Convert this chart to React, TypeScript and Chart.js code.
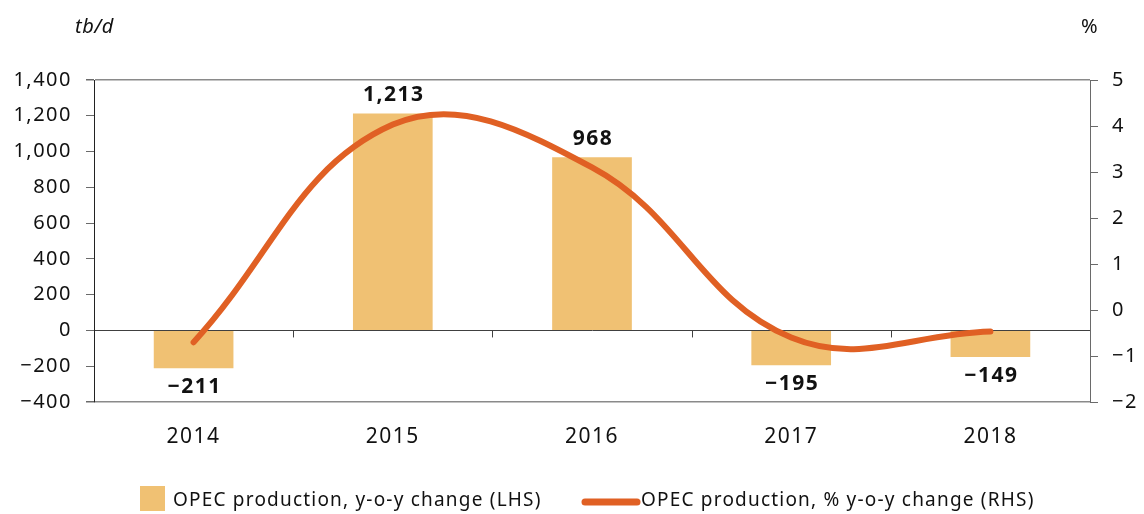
import React, { useEffect, useRef } from 'react';
import { Chart, registerables } from 'chart.js';

Chart.register(...registerables);

const years = ['2014', '2015', '2016', '2017', '2018'];
const productionChange = [-211, 1213, 968, -195, -149];
const pctChange = [-0.7, 4.03, 3.1, -0.6, -0.47];
const leftTicks = [-400, -200, 0, 200, 400, 600, 800, 1000, 1200, 1400];
const rightTicks = [-2, -1, 0, 1, 2, 3, 4, 5];
const barLabel = 'OPEC production, y-o-y change (LHS)';
const lineLabel = 'OPEC production, % y-o-y change (RHS)';
const leftUnit = 'tb/d';
const rightUnit = '%';

const FONT = '"Noto Sans", "Open Sans", sans-serif';
const BAR_COLOR = '#F0C173';
const LINE_COLOR = '#E06024';

const fmt = (v: number) =>
  (v < 0 ? '\u2212' : '') + Math.abs(v).toLocaleString('en-US');

const decorPlugin = {
  id: 'decor',
  beforeDraw(chart: any) {
    (chart.ctx as any).letterSpacing = '1.5px';
  },
  afterDatasetsDraw(chart: any) {
    const ctx = chart.ctx;
    const x = chart.scales.x;
    const y = chart.scales.y;
    // category boundary ticks on the zero line
    const zeroY = y.getPixelForValue(0);
    ctx.save();
    ctx.strokeStyle = '#404040';
    ctx.lineWidth = 1;
    for (let i = 1; i < years.length; i++) {
      const px = (x.getPixelForValue(i - 1) + x.getPixelForValue(i)) / 2;
      ctx.beginPath();
      ctx.moveTo(Math.round(px) + 0.5, zeroY);
      ctx.lineTo(Math.round(px) + 0.5, zeroY + 7);
      ctx.stroke();
    }
    // bar value labels
    const meta = chart.getDatasetMeta(1);
    ctx.font = `bold 21px ${FONT}`;
    ctx.letterSpacing = '1.5px';
    ctx.fillStyle = '#111';
    ctx.textAlign = 'center';
    ctx.textBaseline = 'alphabetic';
    meta.data.forEach((el: any, i: number) => {
      const v = productionChange[i];
      const ty = v >= 0 ? el.y - 12 : el.y + 25;
      ctx.fillText(fmt(v), el.x + 1, ty);
    });
    ctx.restore();
  },
  afterDraw(chart: any) {
    const ctx = chart.ctx;
    ctx.save();
    ctx.fillStyle = '#111';
    ctx.textBaseline = 'middle';
    ctx.letterSpacing = '0.5px';
    ctx.font = `italic 20px ${FONT}`;
    ctx.textAlign = 'left';
    ctx.fillText(leftUnit, 75, 27);
    ctx.font = `20px ${FONT}`;
    ctx.fillText(rightUnit, 1081, 27);

    // legend
    ctx.letterSpacing = '1.2px';
    ctx.fillStyle = BAR_COLOR;
    ctx.fillRect(140, 486, 25, 25);
    ctx.fillStyle = '#111';
    ctx.font = `19px ${FONT}`;
    ctx.fillText(barLabel, 173, 501);
    ctx.strokeStyle = LINE_COLOR;
    ctx.lineWidth = 7;
    ctx.lineCap = 'round';
    ctx.beginPath();
    ctx.moveTo(585, 502);
    ctx.lineTo(637, 502);
    ctx.stroke();
    ctx.fillText(lineLabel, 641, 501);
    ctx.restore();
  },
};

export default function App() {
  const ref = useRef<HTMLCanvasElement | null>(null);

  useEffect(() => {
    if (!ref.current) return;
    const chart = new Chart(ref.current, {
      type: 'bar',
      data: {
        labels: years,
        datasets: [
          {
            type: 'line',
            label: lineLabel,
            data: pctChange,
            yAxisID: 'y1',
            borderColor: LINE_COLOR,
            backgroundColor: LINE_COLOR,
            borderWidth: 6,
            borderCapStyle: 'round',
            pointRadius: 0,
            tension: 0.4,
            order: 1,
          } as any,
          {
            type: 'bar',
            label: barLabel,
            data: productionChange,
            yAxisID: 'y',
            backgroundColor: BAR_COLOR,
            barPercentage: 0.4,
            categoryPercentage: 1.0,
            order: 2,
          },
        ],
      },
      plugins: [decorPlugin],
      options: {
        animation: false,
        responsive: false,
        maintainAspectRatio: false,
        layout: { padding: { top: 80, bottom: 0, left: 0, right: 0 } },
        plugins: {
          legend: { display: false },
          tooltip: { enabled: false },
        },
        scales: {
          x: {
            offset: true,
            grid: { display: false, drawTicks: false },
            border: { display: false },
            ticks: {
              padding: 22,
              color: '#111',
              font: { family: FONT, size: 21 },
            },
            afterFit: (s: any) => {
              s.height = 112;
            },
          },
          y: {
            position: 'left',
            min: -400,
            max: 1400,
            afterBuildTicks: (s: any) => {
              s.ticks = leftTicks.map((v) => ({ value: v }));
            },
            afterFit: (s: any) => {
              s.width = 94;
            },
            grid: {
              color: (c: any) => {
                const v = c.tick && c.tick.value;
                if (v === 0) return '#404040';
                if (v === 1400 || v === -400) return '#8a8a8a';
                return 'rgba(0,0,0,0)';
              },
              lineWidth: (c: any) => {
                const v = c.tick && c.tick.value;
                return v === 1400 || v === -400 ? 1.5 : 1;
              },
              tickColor: '#6a6a6a',
              tickLength: 8,
            },
            border: { display: true, color: '#222', width: 1 },
            ticks: {
              padding: 14,
              color: '#111',
              font: { family: FONT, size: 20 },
              callback: (v: any) => fmt(Number(v)),
            },
          },
          y1: {
            position: 'right',
            min: -2,
            max: 5,
            afterBuildTicks: (s: any) => {
              s.ticks = rightTicks.map((v) => ({ value: v }));
            },
            afterFit: (s: any) => {
              s.width = 54;
            },
            grid: {
              drawOnChartArea: false,
              color: '#6a6a6a',
              tickColor: '#6a6a6a',
              tickLength: 8,
            },
            border: { display: true, color: '#6a6a6a', width: 1 },
            ticks: {
              padding: 14,
              color: '#111',
              font: { family: FONT, size: 20 },
              callback: (v: any) => fmt(Number(v)),
            },
          },
        },
      },
    });
    return () => chart.destroy();
  }, []);

  return (
    <div style={{ position: 'absolute', left: 0, top: 0, width: 1144, height: 514, background: '#fff' }}>
      <canvas ref={ref} width={1144} height={514} style={{ display: 'block', width: 1144, height: 514 }} />
    </div>
  );
}
